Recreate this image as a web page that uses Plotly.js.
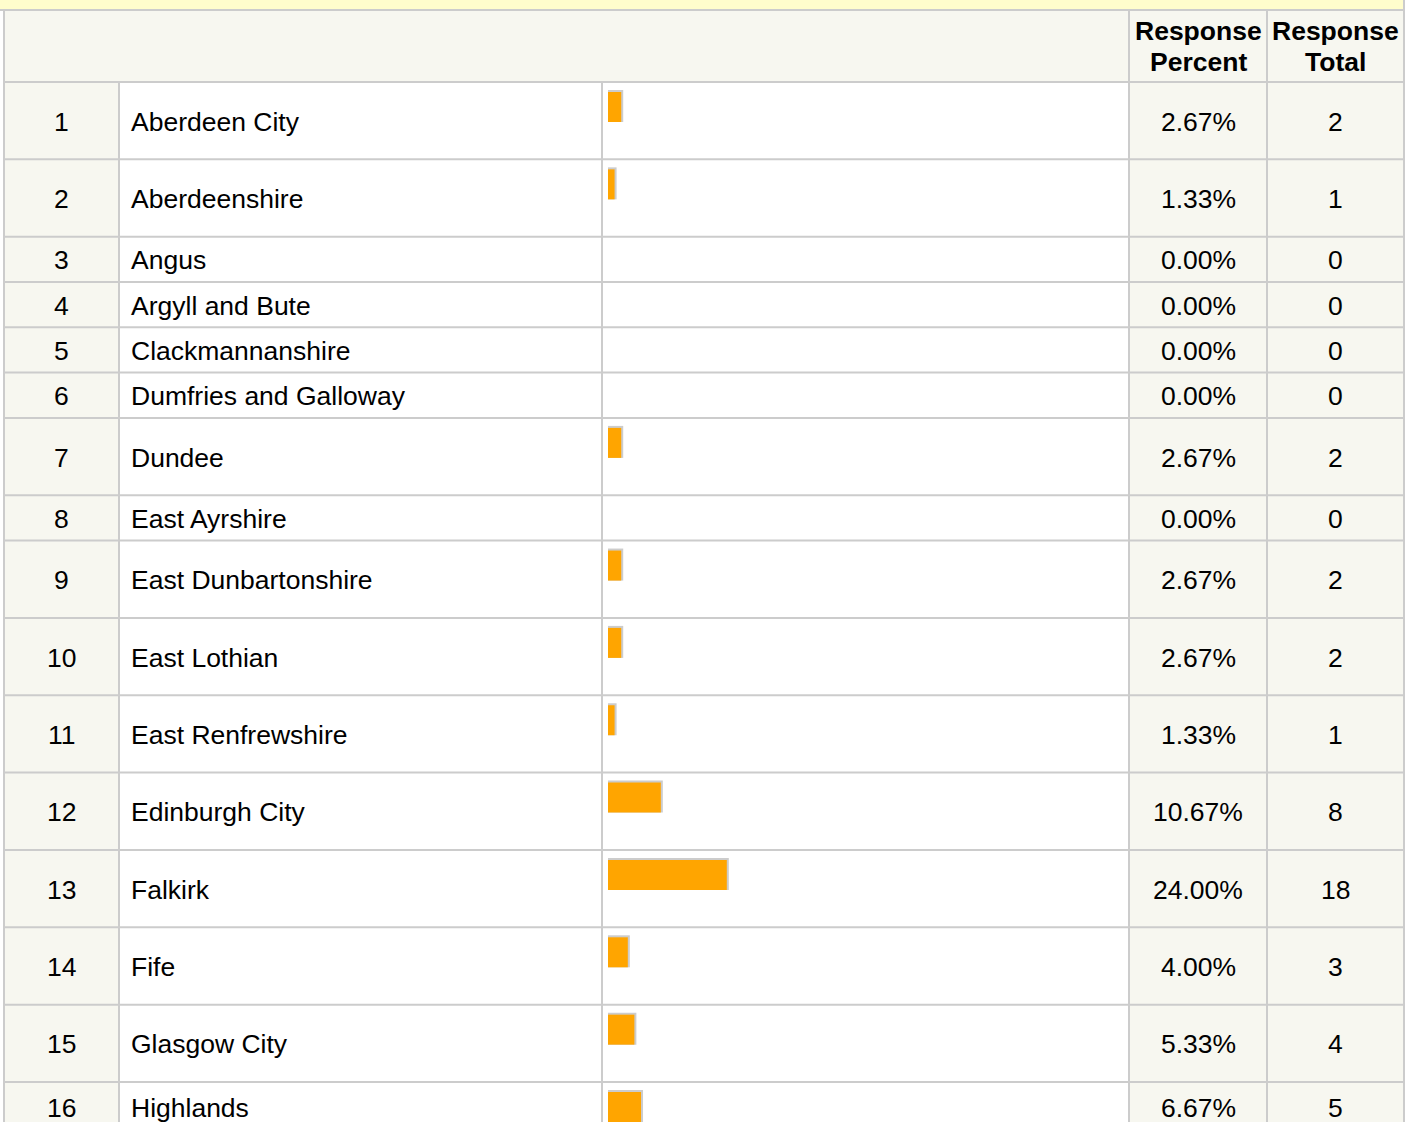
<!DOCTYPE html>
<html>
<head>
<meta charset="utf-8">
<script src="https://cdn.plot.ly/plotly-3.0.1.min.js"></script>
<style>
html,body{margin:0;padding:0;background:#ffffff;}
#chart{width:1417px;height:1122px;}
</style>
</head>
<body>
<div id="chart"></div>
<script>
// ---- data ----
const ranks = [1,2,3,4,5,6,7,8,9,10,11,12,13,14,15,16];
const regions = ["Aberdeen City","Aberdeenshire","Angus","Argyll and Bute","Clackmannanshire",
  "Dumfries and Galloway","Dundee","East Ayrshire","East Dunbartonshire","East Lothian",
  "East Renfrewshire","Edinburgh City","Falkirk","Fife","Glasgow City","Highlands"];
const percents = [2.67,1.33,0.00,0.00,0.00,0.00,2.67,0.00,2.67,2.67,1.33,10.67,24.00,4.00,5.33,6.67];
const totals = [2,1,0,0,0,0,2,0,2,2,1,8,18,3,4,5];
const headerPercent = ["Response","Percent"];
const headerTotal = ["Response","Total"];

// ---- layout constants (pixels) ----
const W = 1417, H = 1122;
const colX = [4, 119, 602, 1129, 1267, 1404];
const headerTop = 10, headerBottom = 82;
const tallRow = 77.35, shortRow = 45.3;
const barLeft = 608;
const pxPerPct = 4.95;
const border = '#cccccc', cream = '#f7f7f0', yellow = '#fffdcc';
const font = {family: 'Liberation Sans, Arial, sans-serif', size: 26.5, color: '#000000'};

// row geometry derived from data (rows with a bar are taller)
const tops = [], bottoms = [];
let yy = headerBottom;
percents.forEach(p => { tops.push(yy); yy += (p > 0 ? tallRow : shortRow); bottoms.push(yy); });
const textY = tops.map((t, i) => (t + Math.min(bottoms[i], H + 10)) / 2 + 1);

const shapes = [];
function rect(x0, y0, x1, y1, color) {
  shapes.push({type:'rect', xref:'x', yref:'y', x0, y0, x1, y1, fillcolor: color, line:{width:0}, layer:'below'});
}
function line(x0, y0, x1, y1, w) {
  shapes.push({type:'line', xref:'x', yref:'y', x0, y0, x1, y1, line:{color: border, width: w || 2}, layer:'below'});
}
// top yellow strip
rect(0, 0, colX[5], headerTop, yellow);
// header background
rect(colX[0], headerTop, colX[5], headerBottom, cream);
// body column backgrounds
const bodyEnd = bottoms[bottoms.length - 1];
rect(colX[0], headerBottom, colX[1], bodyEnd, cream);
rect(colX[1], headerBottom, colX[3], bodyEnd, '#ffffff');
rect(colX[3], headerBottom, colX[5], bodyEnd, cream);
// borders
line(0, headerTop, colX[5], headerTop);
line(colX[0], headerBottom, colX[5], headerBottom);
bottoms.forEach(b => line(colX[0], b, colX[5], b));
line(colX[0], headerTop, colX[0], bodyEnd);
line(colX[5], 0, colX[5], bodyEnd);
line(colX[3], headerTop, colX[3], bodyEnd);
line(colX[4], headerTop, colX[4], bodyEnd);
line(colX[1], headerBottom, colX[1], bodyEnd);
line(colX[2], headerBottom, colX[2], bodyEnd);

// annotations (text)
const annotations = [];
function txt(x, y, text, anchor, bold) {
  annotations.push({xref:'x', yref:'y', x, y, text: bold ? '<b>' + text + '</b>' : text,
    showarrow:false, xanchor: anchor, yanchor:'middle', font: font, borderpad: 0});
}
const cPct = (colX[3] + colX[4]) / 2, cTot = (colX[4] + colX[5]) / 2;
const hMid = (headerTop + headerBottom) / 2;
txt(cPct, hMid - 15, headerPercent[0], 'center', true);
txt(cPct, hMid + 16, headerPercent[1], 'center', true);
txt(cTot, hMid - 15, headerTotal[0], 'center', true);
txt(cTot, hMid + 16, headerTotal[1], 'center', true);
ranks.forEach((r, i) => {
  txt((colX[0] + colX[1]) / 2, textY[i], String(r), 'center');
  txt(130, textY[i], regions[i], 'left');
  txt(cPct, textY[i], percents[i].toFixed(2) + '%', 'center');
  txt(cTot, textY[i], String(totals[i]), 'center');
});

// bars
const barY = tops.map(t => t + 10 + 15);
const shadowY = tops.map(t => t + 8 + 16);
const shadowX = percents.map(p => p > 0 ? p + 2 / pxPerPct : null);
const traces = [
  {type:'bar', orientation:'h', x: shadowX, y: shadowY, width: 32, base: 0,
   xaxis:'x2', yaxis:'y', marker:{color: border, line:{width:0}}, hoverinfo:'skip', showlegend:false},
  {type:'bar', orientation:'h', x: percents, y: barY, width: 30, base: 0,
   xaxis:'x2', yaxis:'y', marker:{color:'#ffa500', line:{width:0}}, hoverinfo:'skip', showlegend:false}
];

const layout = {
  width: W, height: H,
  margin: {l:0, r:0, t:0, b:0, pad:0},
  paper_bgcolor:'#ffffff', plot_bgcolor:'rgba(0,0,0,0)',
  barmode:'overlay',
  showlegend:false,
  hovermode:false,
  xaxis: {range:[0, W], domain:[0,1], visible:false, fixedrange:true},
  xaxis2: {range:[0, (colX[3] - barLeft) / pxPerPct], domain:[barLeft / W, colX[3] / W],
           anchor:'y', visible:false, fixedrange:true},
  yaxis: {range:[H, 0], domain:[0,1], visible:false, fixedrange:true},
  shapes: shapes,
  annotations: annotations
};

Plotly.newPlot('chart', traces, layout, {displayModeBar:false, staticPlot:true});
</script>
</body>
</html>
